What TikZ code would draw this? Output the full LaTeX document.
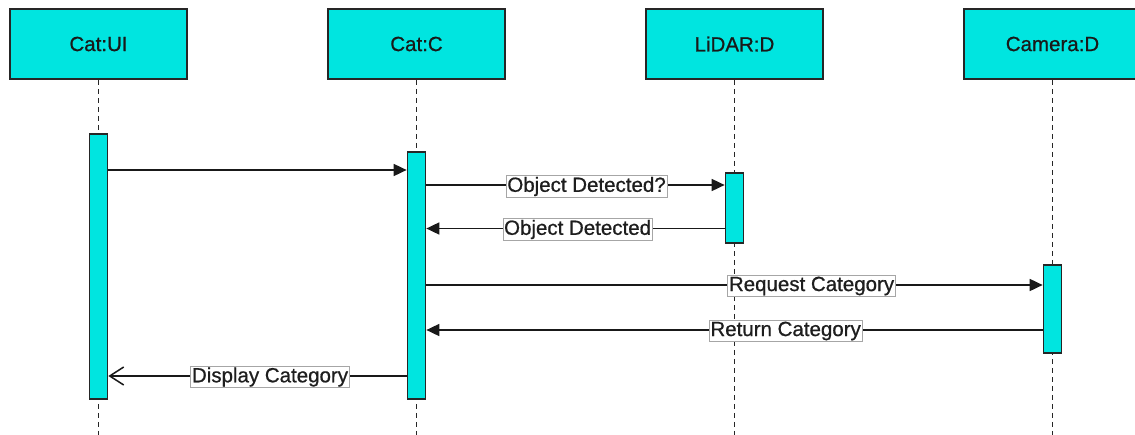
\documentclass[tikz,border=0pt]{standalone}
\usepackage{fontspec}
\setmainfont{Liberation Sans}
\newfontfamily\diagfont[FakeBold=0.7]{Liberation Sans}
\usetikzlibrary{arrows.meta}
\definecolor{lifecyan}{RGB}{0,229,224}
\definecolor{labeltext}{RGB}{30,30,30}
\begin{document}
\begin{tikzpicture}[x=1pt,y=-1pt,
  headbox/.style={draw=black!85, fill=lifecyan, line width=1.7pt,
    minimum width=177pt, minimum height=70pt, inner sep=0pt,
    font=\diagfont\fontsize{20.5}{24}\selectfont, text=black!90},
  actbar/.style={draw=black!85, fill=lifecyan, line width=1.7pt,
    minimum width=18pt, inner sep=0pt, anchor=north},
  lifeline/.style={draw=black!85, line width=1.7pt, dash pattern=on 5pt off 4pt},
  msg/.style={draw=black!90, line width=1.7pt, -{Triangle[length=13pt,width=12pt]}},
  reply/.style={draw=black!90, line width=1.7pt, -{Straight Barb[length=14pt,width=18pt,line width=1.5pt]}},
  msglabel/.style={fill=white, draw=black!35, line width=0.7pt, inner sep=1.2pt,
    font=\diagfont\fontsize{20.5}{24}\selectfont, text=labeltext}]
\useasboundingbox (0,0) rectangle (1135,434);
\clip (0,0) rectangle (1135,434);

% object heads
\node[headbox] (ui)  at (98.5,44)  {Cat:UI};
\node[headbox] (cc)  at (416.5,44) {Cat:C};
\node[headbox] (lid) at (734.5,44) {LiDAR:D};
\node[headbox] (cam) at (1052.5,44) {Camera:D};

% lifeline ends at the bottom edge
\coordinate (uiEnd)  at (ui.south |- 0,436);
\coordinate (ccEnd)  at (cc.south |- 0,436);
\coordinate (lidEnd) at (lid.south |- 0,436);
\coordinate (camEnd) at (cam.south |- 0,436);

\draw[lifeline] (ui.south) -- (uiEnd);
\draw[lifeline] (cc.south) -- (ccEnd);
\draw[lifeline] (lid.south) -- (lidEnd);
\draw[lifeline] (cam.south) -- (camEnd);

% activation bars
\node[actbar, minimum height=265pt] (uiBar)  at (98.5,133)  {};
\node[actbar, minimum height=247pt] (ccBar)  at (416.5,151) {};
\node[actbar, minimum height=70pt]  (lidBar) at (734.5,172) {};
\node[actbar, minimum height=88pt]  (camBar) at (1052.5,264) {};

% messages
\draw[msg] (uiBar.east |- 0,170) -- (ccBar.west |- 0,170);
\draw[msg] (ccBar.east |- 0,185) -- node[msglabel, pos=0.537, yshift=-1.5pt] {Object Detected?} (lidBar.west |- 0,185);
\draw[msg] (lidBar.west |- 0,228.5) -- node[msglabel, pos=0.493, yshift=-1pt] {Object Detected} (ccBar.east |- 0,228.5);
\draw[msg] (ccBar.east |- 0,285) -- node[msglabel, pos=0.625, yshift=-1pt] {Request Category} (camBar.west |- 0,285);
\draw[msg] (camBar.west |- 0,330) -- node[msglabel, pos=0.417, yshift=-1pt] {Return Category} (ccBar.east |- 0,330);
\draw[reply] (ccBar.west |- 0,376) -- node[msglabel, pos=0.458, yshift=-1pt] {Display Category} (uiBar.east |- 0,376);
\end{tikzpicture}
\end{document}
